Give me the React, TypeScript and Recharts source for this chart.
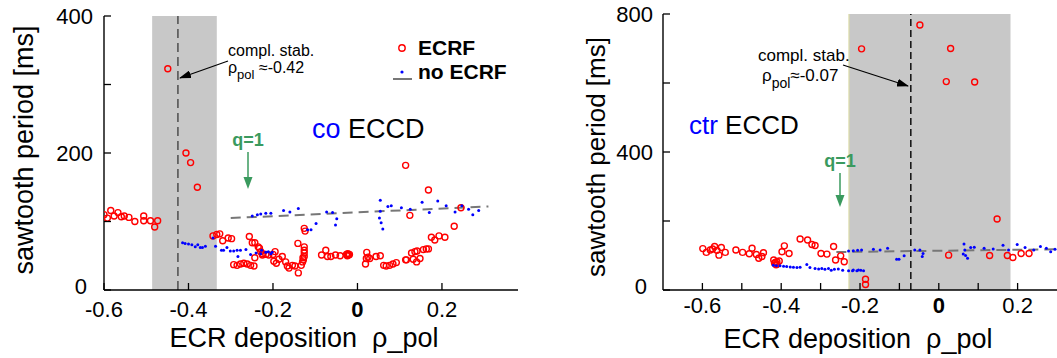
import React from "react";
import { ScatterChart, Scatter, XAxis, YAxis, ReferenceArea, ReferenceLine } from "recharts";

// co ECCD panel: [rho_pol, sawtooth period (ms)]
const coEcrf: [number, number][] = [
  [-0.6, 110], [-0.592, 105], [-0.584, 116], [-0.576, 108], [-0.567, 113], [-0.559, 107], [-0.552, 108],
  [-0.541, 106], [-0.527, 100], [-0.506, 108], [-0.506, 101], [-0.49, 101], [-0.48, 92], [-0.473, 101],
  [-0.449, 323], [-0.406, 200], [-0.395, 186], [-0.379, 150],
  [-0.342, 79], [-0.333, 81], [-0.326, 82], [-0.319, 72], [-0.306, 76], [-0.298, 75],
  [-0.256, 78], [-0.249, 69], [-0.243, 69], [-0.235, 63], [-0.232, 61], [-0.229, 56], [-0.225, 53],
  [-0.293, 37], [-0.285, 36], [-0.277, 38], [-0.269, 39], [-0.261, 38], [-0.253, 36], [-0.245, 35], [-0.243, 47],
  [-0.225, 51], [-0.217, 52], [-0.21, 51], [-0.2, 52], [-0.195, 56],
  [-0.198, 42], [-0.192, 39], [-0.186, 45], [-0.178, 49], [-0.17, 41], [-0.166, 35], [-0.162, 32],
  [-0.154, 36], [-0.148, 35], [-0.14, 25], [-0.133, 36], [-0.13, 41], [-0.129, 47], [-0.141, 68],
  [-0.126, 90], [-0.124, 86], [-0.126, 63], [-0.126, 58], [-0.126, 54], [-0.126, 49], [-0.128, 44],
  [-0.085, 51], [-0.075, 58], [-0.071, 49], [-0.063, 49], [-0.052, 51], [-0.041, 50],
  [-0.026, 52], [-0.023, 53], [-0.021, 51], [-0.019, 52], [-0.024, 50],
  [0.019, 38], [0.021, 46], [0.022, 55], [0.025, 48], [0.029, 46], [0.044, 49], [0.054, 50],
  [0.062, 36], [0.068, 35], [0.076, 36], [0.084, 38], [0.092, 40], [0.114, 44], [0.116, 44],
  [0.128, 54], [0.136, 56], [0.141, 57], [0.156, 59], [0.163, 60], [0.132, 45], [0.14, 41], [0.148, 46],
  [0.124, 109], [0.114, 182], [0.168, 146], [0.168, 60],
  [0.175, 77], [0.183, 73], [0.193, 79], [0.207, 77], [0.229, 93], [0.245, 120],
];

const coNoEcrf: [number, number][] = [
  [-0.414, 69], [-0.408, 68], [-0.4, 67], [-0.392, 66], [-0.384, 63], [-0.378, 66], [-0.372, 62],
  [-0.367, 62], [-0.36, 64], [-0.342, 76], [-0.336, 64], [-0.322, 58], [-0.317, 58], [-0.309, 62],
  [-0.301, 57], [-0.293, 57], [-0.285, 58], [-0.283, 49], [-0.277, 58], [-0.264, 59], [-0.253, 52],
  [-0.24, 54], [-0.229, 53], [-0.227, 58], [-0.217, 55], [-0.211, 56], [-0.205, 53], [-0.202, 55],
  [-0.249, 108], [-0.237, 110], [-0.229, 111], [-0.217, 112], [-0.205, 112], [-0.175, 116],
  [-0.16, 114], [-0.14, 119], [-0.118, 88], [-0.11, 88], [-0.098, 97], [-0.073, 114], [-0.059, 113],
  [-0.049, 104], [-0.052, 95],
  [0.054, 131], [0.054, 115], [0.052, 105], [0.056, 98], [0.06, 89], [0.072, 122], [0.08, 123],
  [0.104, 120], [0.125, 118], [0.153, 128], [0.17, 113], [0.19, 130], [0.21, 123], [0.231, 114],
  [0.247, 123], [0.263, 118], [0.273, 110], [0.287, 116],
];

const coFit: [number, number][] = [[-0.3, 105], [0.31, 122]];
const coBand = [-0.486, -0.333];
const coStab = -0.425;

// ctr ECCD panel
const ctrEcrf: [number, number][] = [
  [-0.599, 120], [-0.59, 109], [-0.58, 116], [-0.574, 119], [-0.569, 126], [-0.563, 115], [-0.558, 101],
  [-0.552, 123], [-0.542, 109], [-0.515, 116], [-0.498, 109], [-0.481, 105], [-0.474, 121], [-0.463, 103],
  [-0.457, 92], [-0.449, 97], [-0.445, 108],
  [-0.419, 87], [-0.415, 80], [-0.411, 75], [-0.411, 82], [-0.405, 84], [-0.413, 73], [-0.417, 78],
  [-0.398, 111], [-0.392, 128], [-0.38, 106], [-0.352, 148], [-0.333, 145], [-0.322, 132], [-0.314, 129],
  [-0.299, 106], [-0.284, 104], [-0.267, 126], [-0.262, 87], [-0.249, 99], [-0.24, 82],
  [-0.186, 31], [-0.186, 16],
  [-0.196, 699], [-0.048, 768], [0.03, 700], [0.019, 604], [0.091, 603], [0.148, 206],
  [0.025, 101], [0.129, 100], [0.174, 100], [0.188, 94], [0.209, 106], [0.229, 106],
];

const ctrNoEcrf: [number, number][] = [
  [-0.42, 72], [-0.412, 70], [-0.403, 70], [-0.394, 69], [-0.386, 68], [-0.377, 67], [-0.369, 66],
  [-0.36, 65], [-0.352, 66], [-0.335, 74], [-0.327, 65], [-0.314, 62], [-0.305, 61], [-0.297, 62],
  [-0.289, 60], [-0.28, 62], [-0.273, 57], [-0.265, 60], [-0.255, 61], [-0.244, 57], [-0.229, 56],
  [-0.219, 56], [-0.217, 58], [-0.208, 56], [-0.204, 58], [-0.198, 57], [-0.191, 56],
  [-0.229, 113], [-0.217, 114], [-0.206, 115], [-0.196, 116], [-0.166, 118], [-0.149, 116], [-0.13, 121],
  [-0.107, 89], [-0.101, 89], [-0.088, 99], [-0.061, 116], [-0.048, 116], [-0.042, 97], [-0.04, 106],
  [0.064, 133], [0.066, 116], [0.062, 104], [0.068, 100], [0.073, 92], [0.081, 123], [0.09, 124],
  [0.115, 121], [0.138, 119], [0.163, 130], [0.177, 116], [0.199, 132], [0.219, 123], [0.241, 116],
  [0.258, 126], [0.273, 121], [0.284, 111], [0.295, 118],
];

const ctrFit: [number, number][] = [[-0.26, 110], [0.3, 118]];
const ctrBand = [-0.228, 0.182];
const ctrStab = -0.071;

const coXTicks = [-0.6, -0.4, -0.2, 0, 0.2];
const coYTicks = [0, 100, 200, 300, 400];
const ctrXTicks = [-0.6, -0.5, -0.4, -0.3, -0.2, -0.1, 0, 0.1, 0.2];
const ctrXTopTicks = [-0.6, -0.4, -0.2, 0, 0.2];
const ctrYTicks = [0, 200, 400, 600, 800];

const FONT = "'Liberation Sans', Arial, sans-serif";
const GREEN = "#3a9a5e";

const toPts = (arr: [number, number][]) => arr.map(([x, y]) => ({ x, y }));
const fmt = (v: number) => (v === 0 ? "0" : String(Math.round(v * 10) / 10));

const RedRing = (p: any) => (
  <circle cx={p.cx} cy={p.cy} r={3} fill="none" stroke="#ff0000" strokeWidth={1.4} />
);
const BlueDot = (p: any) => <circle cx={p.cx} cy={p.cy} r={1.5} fill="#0000ff" />;

const bottomTick = (labelEvery: number, dy: number) => (p: any) => {
  const v = p.payload.value;
  const show = Math.round(v * 10) % labelEvery === 0;
  return (
    <g>
      <line x1={p.x} x2={p.x} y1={p.y} y2={p.y - 7} stroke="#000" strokeWidth={1.3} />
      {show && (
        <text x={p.x} y={p.y + dy} textAnchor="middle" fontSize={22} fontFamily={FONT}
          fontWeight={v === 0 ? 700 : 400} fill="#000">{fmt(v)}</text>
      )}
    </g>
  );
};
const topTick = (p: any) => (
  <line x1={p.x} x2={p.x} y1={p.y} y2={p.y + 7} stroke="#000" strokeWidth={1.3} />
);
const leftTick = (labelEvery: number, gap: number) => (p: any) => {
  const v = p.payload.value;
  // the zero label sits a little further left, clear of the first x label
  const g = v === 0 ? gap + 6 : gap;
  return (
    <g>
      <line x1={p.x} x2={p.x + 7} y1={p.y} y2={p.y} stroke="#000" strokeWidth={1.3} />
      {v % labelEvery === 0 && (
        <text x={p.x - g} y={p.y} dy={v === 0 ? "0.2em" : "0.36em"} textAnchor="end" fontSize={22}
          fontFamily={FONT} fill="#000">{v}</text>
      )}
    </g>
  );
};
const rightTick = (p: any) => (
  <line x1={p.x} x2={p.x - 7} y1={p.y} y2={p.y} stroke="#000" strokeWidth={1.3} />
);

const axisStroke = { stroke: "#000", strokeWidth: 1.4 };

function Panel(props: any) {
  const { left, width, top, yAxisW, marginRight, xDomain, yDomain, xTicks, xTopTicks, yTicks,
    xLabelEvery, yLabelEvery, xLabelDy, yLabelGap, ecrf, noEcrf, fit, band, stab, stabColor,
    stabDash, bandEdge, rightLine } = props;
  return (
    <div style={{ position: "absolute", left, top: 0 }}>
      <ScatterChart width={width} height={358} margin={{ top, right: marginRight, bottom: 0, left: 0 }}>
        <XAxis type="number" dataKey="x" domain={xDomain} ticks={xTicks} interval={0} allowDataOverflow
          height={68} tickSize={0} tickMargin={0} tickLine={false} axisLine={axisStroke}
          tick={bottomTick(xLabelEvery, xLabelDy)} />
        <XAxis xAxisId="t" orientation="top" type="number" dataKey="x" domain={xDomain} ticks={xTopTicks}
          interval={0} allowDataOverflow height={0} tickSize={0} tickMargin={0} tickLine={false}
          axisLine={axisStroke} tick={topTick} />
        <YAxis type="number" dataKey="y" domain={yDomain} ticks={yTicks} interval={0} allowDataOverflow
          width={yAxisW} tickSize={0} tickMargin={0} tickLine={false} axisLine={axisStroke}
          tick={leftTick(yLabelEvery, yLabelGap)} />
        <YAxis yAxisId="r" orientation="right" type="number" dataKey="y" domain={yDomain} ticks={yTicks}
          interval={0} allowDataOverflow width={0} tickSize={0} tickMargin={0} tickLine={false}
          axisLine={rightLine ? axisStroke : false} tick={rightTick} />
        <ReferenceArea x1={band[0]} x2={band[1]} y1={yDomain[0]} y2={yDomain[1]} fill="#c8c8c8"
          fillOpacity={1} stroke="none" ifOverflow="hidden" />
        {bandEdge && <ReferenceLine x={band[0]} stroke="#dcdca8" strokeWidth={1.2} />}
        <ReferenceLine x={stab} stroke={stabColor} strokeWidth={1.4} strokeDasharray={stabDash} />
        <ReferenceLine segment={[{ x: fit[0][0], y: fit[0][1] }, { x: fit[1][0], y: fit[1][1] }]}
          stroke="#777" strokeWidth={2} strokeDasharray="10 6" ifOverflow="visible" />
        <Scatter data={toPts(ecrf)} shape={RedRing} isAnimationActive={false} />
        <Scatter data={toPts(noEcrf)} shape={BlueDot} isAnimationActive={false} />
      </ScatterChart>
    </div>
  );
}

function Overlay() {
  const t = { fontFamily: FONT, fill: "#000" } as const;
  return (
    <svg width={1057} height={358} style={{ position: "absolute", left: 0, top: 0, pointerEvents: "none" }}>
      <defs>
        <marker id="ah" markerWidth="12" markerHeight="8" refX="11" refY="4" orient="auto" markerUnits="userSpaceOnUse">
          <path d="M0,0 L12,4 L0,8 z" fill="#000" />
        </marker>
      </defs>
      {/* axis titles */}
      <text {...t} x={33} y={150} fontSize={27} textAnchor="middle" transform="rotate(-90 33 150)">sawtooth period [ms]</text>
      <text {...t} x={605} y={157} fontSize={26} textAnchor="middle" transform="rotate(-90 605 157)">sawtooth period [ms]</text>
      <text {...t} x={304} y={347} fontSize={27} textAnchor="middle" style={{ whiteSpace: "pre" }}>{"ECR deposition  ρ_pol"}</text>
      <text {...t} x={858} y={348} fontSize={27} textAnchor="middle" style={{ whiteSpace: "pre" }}>{"ECR deposition  ρ_pol"}</text>

      {/* co panel annotations */}
      <text {...t} x={228} y={56} fontSize={16}>compl. stab.</text>
      <text {...t} x={228} y={73} fontSize={16}>ρ<tspan fontSize={13} dy={6}>pol</tspan><tspan dy={-6}> ≈-0.42</tspan></text>
      <line x1={228} y1={61} x2={180} y2={78} stroke="#000" strokeWidth={1.2} markerEnd="url(#ah)" />
      <text x={312} y={138} fontSize={27} fontFamily={FONT}><tspan fill="#0000ff">co</tspan><tspan fill="#000"> ECCD</tspan></text>
      <text x={248} y={146} fontSize={18} fontWeight={700} fontFamily={FONT} fill={GREEN} textAnchor="middle">q=1</text>
      <line x1={248} y1={152} x2={248} y2={179} stroke={GREEN} strokeWidth={1.5} />
      <path d="M243.5,177 L252.5,177 L248,189 z" fill={GREEN} />

      {/* legend */}
      <circle cx={402} cy={48} r={3.2} fill="none" stroke="#ff0000" strokeWidth={1.4} />
      <text {...t} x={418} y={55} fontSize={21} fontWeight={700}>ECRF</text>
      <circle cx={402} cy={72} r={1.6} fill="#0000ff" />
      <line x1={393} y1={79} x2={412} y2={79} stroke="#777" strokeWidth={2} />
      <text {...t} x={418} y={79} fontSize={21} fontWeight={700}>no ECRF</text>

      {/* ctr panel annotations */}
      <text {...t} x={758} y={61} fontSize={17}>compl. stab.</text>
      <text {...t} x={762} y={81} fontSize={17}>ρ<tspan fontSize={14} dy={7}>pol</tspan><tspan dy={-7}>≈-0.07</tspan></text>
      <line x1={843} y1={65} x2={908} y2={86} stroke="#000" strokeWidth={1.2} markerEnd="url(#ah)" />
      <text x={689} y={134} fontSize={26} fontFamily={FONT}><tspan fill="#0000ff">ctr</tspan><tspan fill="#000"> ECCD</tspan></text>
      <text x={840} y={167} fontSize={18} fontWeight={700} fontFamily={FONT} fill={GREEN} textAnchor="middle">q=1</text>
      <line x1={840} y1={173} x2={840} y2={197} stroke={GREEN} strokeWidth={1.5} />
      <path d="M835.5,195 L844.5,195 L840,207 z" fill={GREEN} />
    </svg>
  );
}

export default function App() {
  return (
    <div style={{ position: "absolute", left: 0, top: 0, width: 1057, height: 358, background: "#fff", overflow: "hidden" }}>
      <Panel left={0} width={530} top={16} yAxisW={104} marginRight={12} xDomain={[-0.6, 0.38]} yDomain={[0, 400]}
        xTicks={coXTicks} xTopTicks={coXTicks} yTicks={coYTicks} xLabelEvery={2} yLabelEvery={200}
        xLabelDy={27} yLabelGap={11} ecrf={coEcrf} noEcrf={coNoEcrf} fit={coFit} band={coBand}
        stab={coStab} stabColor="#444" stabDash="9 5" bandEdge={false} rightLine />
      <Panel left={530} width={527} top={14} yAxisW={133} marginRight={0} xDomain={[-0.7, 0.3]} yDomain={[0, 800]}
        xTicks={ctrXTicks} xTopTicks={ctrXTopTicks} yTicks={ctrYTicks} xLabelEvery={2} yLabelEvery={400}
        xLabelDy={23} yLabelGap={10} ecrf={ctrEcrf} noEcrf={ctrNoEcrf} fit={ctrFit} band={ctrBand}
        stab={ctrStab} stabColor="#000" stabDash="7 4" bandEdge rightLine={false} />
      <Overlay />
    </div>
  );
}
